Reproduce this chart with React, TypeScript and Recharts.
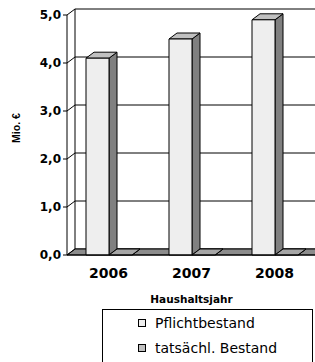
import {
  BarChart, Bar, XAxis, YAxis, CartesianGrid, ReferenceArea, Legend,
} from "recharts";

const years = ["2006", "2007", "2008"];
const pflichtbestand = [4.1, 4.5, 4.9];
const tatsBestand = [0, 0, 0];
const yTicks = [0, 1, 2, 3, 4, 5];
const bandEdges = [0, 1, 2, 3];
const seriesNames = ["Pflichtbestand", "tatsächl. Bestand"];

const data = years.map((year, i) => ({
  year,
  pflicht: pflichtbestand[i],
  tats: tatsBestand[i],
}));

const W = 330;
const H = 362;
const M = { top: 15, right: 14, bottom: 77, left: 0 };
const AXIS_W = 67;
const X_H = 30;
const PLOT_LEFT = M.left + AXIS_W;
const PLOT_TOP = M.top;
const PLOT_H = H - M.top - M.bottom - X_H;
const D = { dx: 8, dy: -6 };
const FONT = "'DejaVu Sans', Arial, sans-serif";
const ARIAL = "'Liberation Sans', Arial, sans-serif";

const fmt = (v: number) => v.toFixed(1).replace(".", ",");

function make3D(top: string, side: string) {
  return (p: any) => {
    const { x, y, width: w, height: h, fill } = p;
    if (x == null || y == null) return null;
    const { dx, dy } = D;
    return (
      <g stroke="#000" strokeWidth={1} strokeLinejoin="round">
        <polygon
          points={`${x + w},${y} ${x + w + dx},${y + dy} ${x + w + dx},${y + h + dy} ${x + w},${y + h}`}
          fill={side}
        />
        <polygon
          points={`${x},${y} ${x + dx},${y + dy} ${x + w + dx},${y + dy} ${x + w},${y}`}
          fill={top}
        />
        {h > 0 && <rect x={x} y={y} width={w} height={h} fill={fill} />}
      </g>
    );
  };
}

function Floor(p: any) {
  const { x, y, width: w, height: h } = p;
  const yb = y + (h || 0);
  return (
    <polygon
      points={`${x},${yb} ${x + w},${yb} ${x + w + D.dx},${yb + D.dy} ${x + D.dx},${yb + D.dy}`}
      fill="#8c8c8c"
      stroke="#000"
      strokeWidth={1}
    />
  );
}

function YTick(p: any) {
  const { x, y, payload } = p;
  return (
    <g>
      <line x1={x - 4} y1={y} x2={x} y2={y} stroke="#000" />
      <line x1={x} y1={y} x2={x + D.dx} y2={y + D.dy} stroke="#000" />
      <text
        x={x - 6}
        y={y}
        dy="0.36em"
        textAnchor="end"
        fontFamily={FONT}
        fontSize={12}
        fontWeight="bold"
        fill="#000"
      >
        {fmt(payload.value)}
      </text>
    </g>
  );
}

function LegendBox({ payload }: any) {
  return (
    <div
      style={{
        boxSizing: "border-box",
        width: 211,
        height: 60,
        border: "1px solid #000",
        background: "#fff",
        fontFamily: FONT,
        fontSize: 14,
        color: "#000",
        position: "relative",
      }}
    >
      {(payload || []).map((e: any, i: number) => (
        <div
          key={i}
          style={{
            position: "absolute",
            left: 35,
            top: 1 + i * 25,
            height: 24,
            lineHeight: "24px",
            display: "flex",
            alignItems: "center",
            whiteSpace: "nowrap",
          }}
        >
          <span
            style={{
              boxSizing: "border-box",
              width: 8,
              height: 8,
              border: "1px solid #000",
              background: e.color,
              marginRight: 9,
            }}
          />
          {e.value}
        </div>
      ))}
    </div>
  );
}

const yPos = (yAxis: any, v: number) => {
  const s = yAxis?.scale;
  return typeof s === "function" ? s(v) : PLOT_TOP + PLOT_H * (1 - v / 5);
};

export default function App() {
  return (
    <div style={{ width: 315, height: 362, overflow: "hidden", position: "relative" }}>
      <style>{"body{margin:0}"}</style>
      <BarChart
        width={W}
        height={H}
        data={data}
        margin={M}
        barSize={23}
        barGap={0}
      >
        <CartesianGrid
          x={PLOT_LEFT + D.dx}
          y={PLOT_TOP + D.dy}
          width={W}
          height={PLOT_H}
          stroke="#000"
          fill="#fff"
          horizontalCoordinatesGenerator={({ yAxis }: any) =>
            yTicks.map(v => yPos(yAxis, v) + D.dy)
          }
          verticalCoordinatesGenerator={() => [PLOT_LEFT + D.dx]}
        />
        <XAxis
          xAxisId="b"
          type="number"
          domain={[0, 3]}
          ticks={bandEdges}
          interval={0}
          allowDataOverflow
          height={0}
          axisLine={false}
          tickSize={4}
          tickLine={{ stroke: "#000" }}
          tickFormatter={() => ""}
        />
        <XAxis
          dataKey="year"
          height={X_H}
          tickLine={false}
          tickSize={0}
          tickMargin={13}
          axisLine={{ stroke: "#000" }}
          tick={{ fill: "#000", fontSize: 14, fontWeight: "bold", fontFamily: FONT }}
          label={{
            content: (props: any) => {
              const vb = props.viewBox || { x: PLOT_LEFT, y: 255, width: 249 };
              return (
                <text
                  x={vb.x + vb.width / 2}
                  y={vb.y + 48}
                  textAnchor="middle"
                  fontFamily={FONT}
                  fontSize={10.5}
                  fontWeight="bold"
                  fill="#000"
                >
                  Haushaltsjahr
                </text>
              );
            },
          }}
        />
        <YAxis
          width={AXIS_W}
          domain={[0, 5]}
          ticks={yTicks}
          interval={0}
          tickSize={0}
          tickMargin={0}
          tickLine={false}
          axisLine={{ stroke: "#000" }}
          tick={(p: any) => <YTick {...p} />}
          label={{
            content: (props: any) => {
              const vb = props.viewBox || { x: 0, y: PLOT_TOP, height: PLOT_H };
              const cx = vb.x + 16;
              const cy = vb.y + vb.height / 2 - 7;
              return (
                <text
                  x={cx}
                  y={cy}
                  transform={`rotate(-90, ${cx}, ${cy})`}
                  textAnchor="middle"
                  dy="0.36em"
                  fontFamily={ARIAL}
                  fontSize={10.5}
                  fontWeight="bold"
                  fill="#000"
                >
                  Mio. €
                </text>
              );
            },
          }}
        />
        <ReferenceArea
          xAxisId="b"
          x1={0}
          x2={3}
          y1={0}
          y2={0}
          ifOverflow="visible"
          shape={(p: any) => <Floor {...p} />}
        />
        <Bar
          dataKey="pflicht"
          name={seriesNames[0]}
          fill="#eeeeee"
          isAnimationActive={false}
          shape={make3D("#c0c0c0", "#808080")}
        />
        <Bar
          dataKey="tats"
          name={seriesNames[1]}
          fill="#c0c0c0"
          isAnimationActive={false}
          shape={make3D("#a6a6a6", "#606060")}
        />
        <Legend
          layout="horizontal"
          verticalAlign="middle"
          align="center"
          wrapperStyle={{ left: 102, top: 309, width: 211, height: 60 }}
          content={(p: any) => <LegendBox payload={p.payload} />}
        />
      </BarChart>
    </div>
  );
}
